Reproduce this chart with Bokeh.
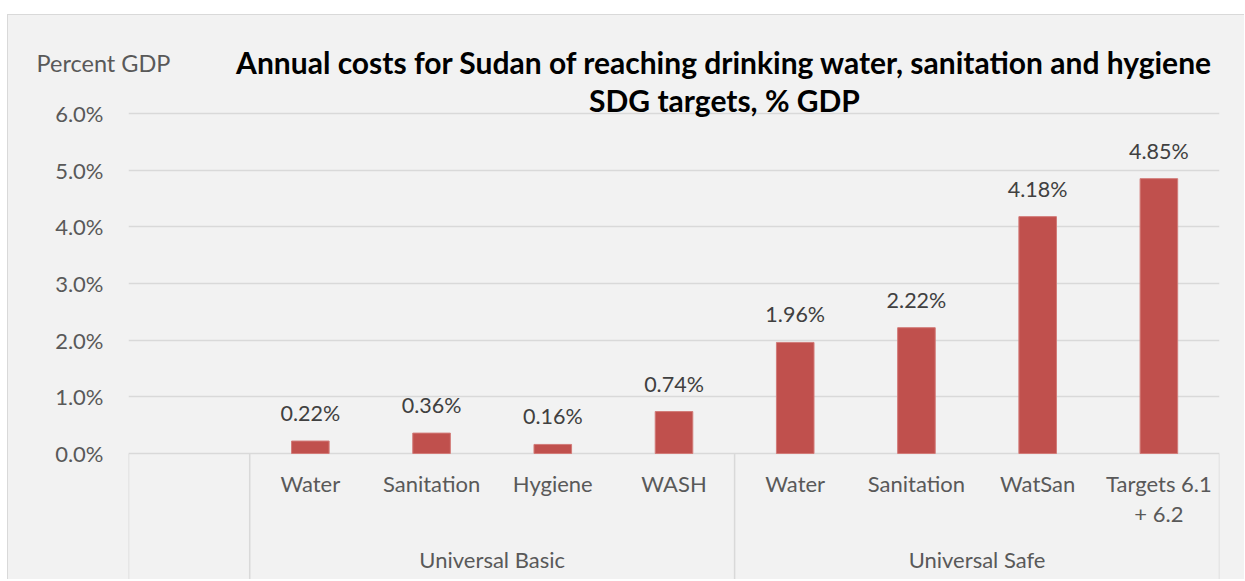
from bokeh.plotting import figure
from bokeh.models import ColumnDataSource, FixedTicker, PrintfTickFormatter, Spacer, Range1d
from bokeh.layouts import column, row
from bokeh.core.properties import value
from bokeh.embed import file_html
from bokeh.resources import INLINE
import numpy as np

# ---- data ----
categories = ["Water", "Sanitation", "Hygiene", "WASH",
              "Water", "Sanitation", "WatSan", "Targets 6.1\n+ 6.2"]
groups = ["Universal Basic", "Universal Safe"]
group_sizes = [4, 4]
values = [0.22, 0.36, 0.16, 0.74, 1.96, 2.22, 4.18, 4.85]
value_labels = ["0.22%", "0.36%", "0.16%", "0.74%", "1.96%", "2.22%", "4.18%", "4.85%"]
y_ticks = [0, 1, 2, 3, 4, 5, 6]

title_lines = ["Annual costs for Sudan of reaching drinking water, sanitation and hygiene",
               "SDG targets, % GDP"]
y_label = "Percent GDP"

FONT = "Lato"
GRID = "#d9d9d9"
BG = "#f2f2f2"

# page-pixel layout of the chart box
LEFT, TOP, SPLIT, BOTTOM, W = 8, 15, 80, 579, 1236
n_slots = len(categories) + 1
xc = np.arange(1, n_slots) + 0.5

src = ColumnDataSource(dict(x=xc, v=values, lab=value_labels, cat=categories))

px = (453 - 113) / 6.0
y_start = -(BOTTOM - 453) / px
y_end = 6 + (113 - SPLIT) / px
slot = (1219 - 128) / n_slots

# ---- header strip (title first line and y-axis caption) ----
h = figure(width=W, height=SPLIT - TOP, x_range=Range1d(0, W), y_range=Range1d(SPLIT - TOP, 0),
           output_backend="svg", toolbar_location=None, frame_align=False,
           min_border_left=0, min_border_right=0, min_border_top=0, min_border_bottom=0)
h.axis.visible = False
h.grid.visible = False
h.outline_line_color = None
h.background_fill_color = BG
h.border_fill_color = BG
h.text(x=[36 - LEFT], y=[62 - TOP], text=[y_label], text_font=value(FONT),
       text_font_size="23.5px", text_color="#595959", text_align="left", text_baseline="middle")
h.text(x=[724 - LEFT], y=[61 - TOP], text=[title_lines[0]], text_font=value(FONT),
       text_font_size="30px", text_font_style="bold", text_color="#000000",
       text_align="center", text_baseline="middle")

# ---- main chart ----
p = figure(width=W, height=BOTTOM - SPLIT, x_range=(0, n_slots), y_range=(y_start, y_end),
           output_backend="svg", toolbar_location=None, frame_align=False,
           min_border_left=128 - LEFT, min_border_right=LEFT + W - 1219,
           min_border_top=0, min_border_bottom=0)
p.background_fill_color = BG
p.border_fill_color = BG
p.outline_line_color = None

p.xaxis.visible = False
p.xgrid.visible = False
p.yaxis.ticker = FixedTicker(ticks=y_ticks)
p.yaxis.formatter = PrintfTickFormatter(format="%.1f%%")
p.yaxis.axis_line_color = None
p.yaxis.major_tick_line_color = None
p.yaxis.minor_tick_line_color = None
p.yaxis.major_label_text_font = FONT
p.yaxis.major_label_text_font_size = "22px"
p.yaxis.major_label_text_color = "#595959"
p.yaxis.major_label_standoff = 19
p.ygrid.ticker = FixedTicker(ticks=y_ticks)
p.ygrid.grid_line_color = GRID
p.ygrid.grid_line_width = 1.5

p.vbar(x="x", top="v", bottom=0, width=0.31, source=src,
       fill_color="#c0504d", line_color="#d27b78", line_width=1)

p.text(x="x", y="v", text="lab", source=src, text_font=value(FONT), text_font_size="21.5px",
       text_color="#404040", text_align="center", text_baseline="alphabetic", y_offset=-28)

# category labels
p.text(x="x", y=-(469 - 453) / px, text="cat", source=src, text_font=value(FONT),
       text_font_size="22px", text_color="#595959", text_align="center", text_baseline="top",
       text_line_height=1.12)

# group separators and group labels
bounds = [0, 1]
for s in group_sizes:
    bounds.append(bounds[-1] + s)
p.segment(x0=bounds, y0=[0] * len(bounds), x1=bounds, y1=[y_start] * len(bounds),
          line_color=GRID, line_width=1.5)
gx = [(bounds[i + 1] + bounds[i + 2]) / 2 for i in range(len(groups))]
p.text(x=gx, y=[-(559 - 453) / px] * len(gx), text=groups, text_font=value(FONT),
       text_font_size="22px", text_color="#595959", text_align="center", text_baseline="middle")

# title second line
tx = (724 - 128) / slot
p.text(x=[tx], y=[(453 - 99) / px], text=[title_lines[1]],
       text_font=value(FONT), text_font_size="30px", text_font_style="bold",
       text_color="#000000", text_align="center", text_baseline="middle")

box = column(h, p, spacing=0,
             styles={"border-left": "1px solid #d9d9d9", "border-top": "1px solid #d9d9d9",
                     "background-color": BG})
layout = row(Spacer(width=LEFT - 1), column(Spacer(height=TOP - 1), box, spacing=0), spacing=0)
open("out.html", "w").write(file_html(layout, INLINE))
